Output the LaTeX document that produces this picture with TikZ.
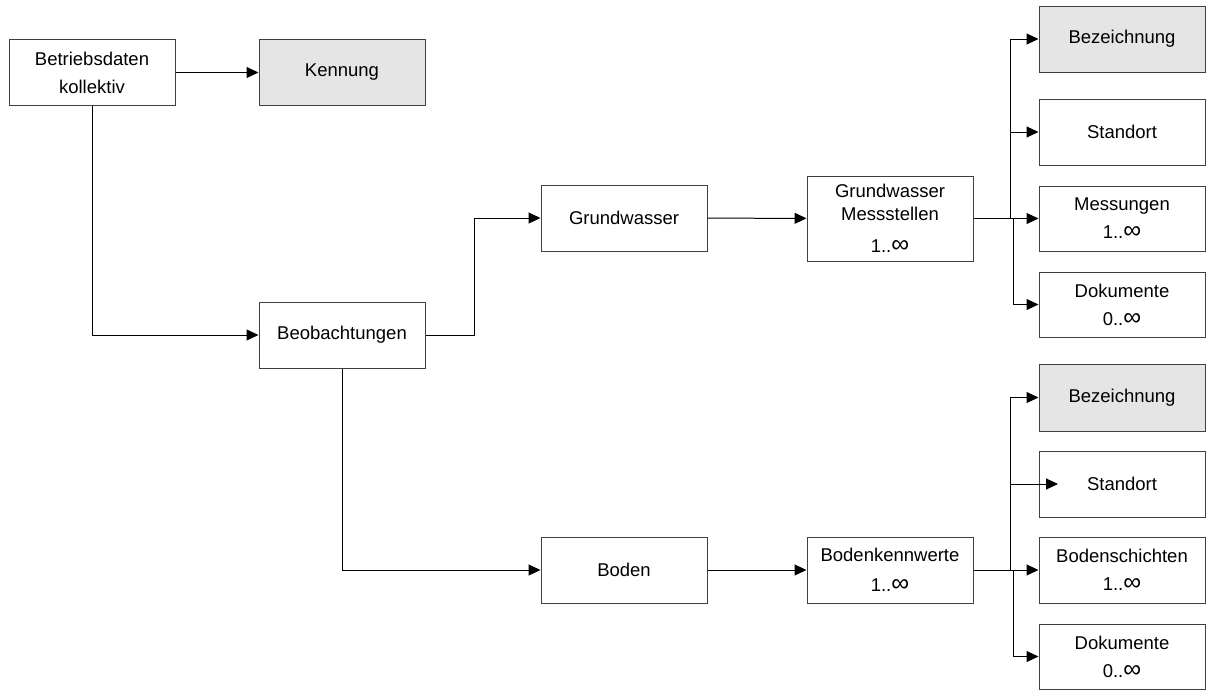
\documentclass[tikz,border=0pt]{standalone}
\usepackage{fontspec}
\setmainfont{Liberation Sans}
\usetikzlibrary{arrows.meta,calc}
% wide infinity sign used in the cardinalities
\newcommand{\infsym}{{\fontsize{25}{25}\selectfont ∞}}
\begin{document}
\begin{tikzpicture}[x=1pt,y=-1pt,
  box/.style={draw=black!75,line width=1pt,fill=white,minimum width=166pt,
    minimum height=66pt,inner sep=0pt,align=center,
    font=\fontsize{18.5}{28}\selectfont},
  keybox/.style={box,fill=black!10},
  conn/.style={line width=1pt,-{Triangle[length=12pt,width=11pt]}}]
\useasboundingbox (0,0) rectangle (1207,691);

% left part
\node[box] (bdk) at (92,72.5) {Betriebsdaten\\kollektiv};
\node[keybox] (ken) at (342,72.5) {Kennung};
\node[box] (beo) at (342,335) {Beobachtungen};
\node[box] (gw) at (624,218) {Grundwasser};
\node[box,minimum height=85pt,font=\fontsize{18.5}{23}\selectfont] (gwm) at (890,218.5)
  {Grundwasser\\Messstellen\\[9pt]1..\infsym};
\node[box] (bod) at (624,570) {Boden};
\node[box] (bkw) at (890,570) {Bodenkennwerte\\[2pt]1..\infsym};

% attributes of the groundwater stations
\node[keybox] (gbez) at (1122,39) {Bezeichnung};
\node[box] (gsto) at (1122,132) {Standort};
\node[box,minimum height=65pt] (gmes) at (1122,218.5) {Messungen\\1..\infsym};
\node[box,minimum height=65pt] (gdok) at (1122,304.5) {Dokumente\\0..\infsym};

% attributes of the soil parameters
\node[keybox,minimum height=67pt] (bbez) at (1122,397.5) {Bezeichnung};
\node[box] (bsto) at (1122,484) {Standort};
\node[box] (bsch) at (1122,570) {Bodenschichten\\1..\infsym};
\node[box,minimum height=65pt] (bdok) at (1122,656.5) {Dokumente\\0..\infsym};

% junction points
\coordinate (beor) at (474,335);
\coordinate (ga) at (1010,218.5);
\coordinate (gb) at (1013,218.5);
\coordinate (ba) at (1010,570);
\coordinate (bb) at (1013,570);
\coordinate (bstotip) at (1058,484);

% connectors
\draw[conn] (bdk) -- (ken);
\draw[conn] (bdk.south) |- (beo.west);
\draw[conn] (beo.east) -- (beor) |- (gw.west);
\draw[conn] (gw) -- (gwm);
\draw[conn] (beo.south) |- (bod.west);
\draw[conn] (bod) -- (bkw);

\draw[conn] (gwm.east) -- (gmes.west);
\draw[conn] (ga) |- (gbez.west);
\draw[conn] (ga) |- (gsto.west);
\draw[conn] (gb) |- (gdok.west);

\draw[conn] (bkw.east) -- (bsch.west);
\draw[conn] (ba) |- (bbez.west);
\draw[conn] (ba |- bsto) -- (bstotip);
\draw[conn] (bb) |- (bdok.west);
\end{tikzpicture}
\end{document}
